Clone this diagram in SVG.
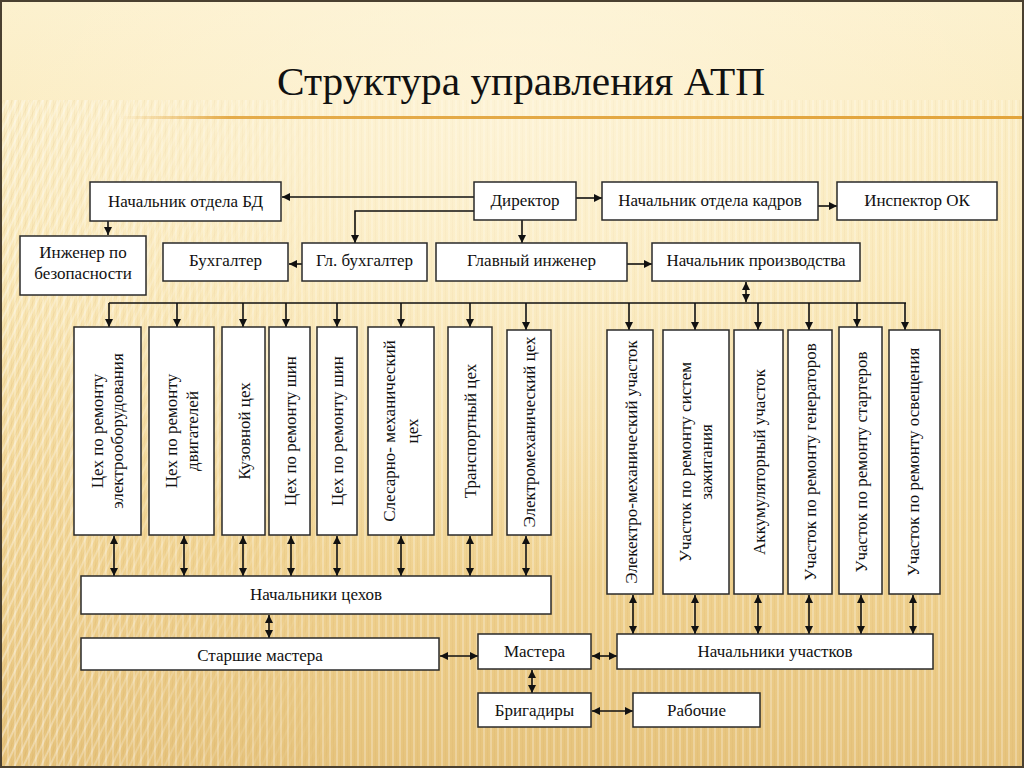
<svg xmlns="http://www.w3.org/2000/svg" width="1024" height="768" viewBox="0 0 1024 768">
<defs>
  <linearGradient id="bg" x1="0" y1="0" x2="0" y2="1">
    <stop offset="0" stop-color="#FCF0CC"/>
    <stop offset="0.35" stop-color="#F9E6B2"/>
    <stop offset="0.7" stop-color="#F1D493"/>
    <stop offset="1" stop-color="#E6C37C"/>
  </linearGradient>
  <radialGradient id="glow" cx="0.5" cy="0.15" r="0.6">
    <stop offset="0" stop-color="#FFF8E4" stop-opacity="0.6"/>
    <stop offset="1" stop-color="#FFF8E4" stop-opacity="0"/>
  </radialGradient>
  <linearGradient id="rule" x1="0" y1="0" x2="1" y2="0">
    <stop offset="0" stop-color="#E2A43C" stop-opacity="0"/>
    <stop offset="0.12" stop-color="#E2A43C" stop-opacity="0.9"/>
    <stop offset="1" stop-color="#E2A43C" stop-opacity="1"/>
  </linearGradient>
  <pattern id="vstripe" width="7" height="10" patternUnits="userSpaceOnUse">
    <rect x="0" y="0" width="2" height="10" fill="#FFFFFF" opacity="0.35"/>
    <rect x="4" y="0" width="1" height="10" fill="#C89A4A" opacity="0.12"/>
  </pattern>
  <pattern id="dstripe" width="8" height="8" patternUnits="userSpaceOnUse" patternTransform="rotate(25)">
    <rect x="0" y="0" width="2" height="8" fill="#FFFFFF" opacity="0.35"/>
    <rect x="5" y="0" width="1" height="8" fill="#C89A4A" opacity="0.12"/>
  </pattern>
  <linearGradient id="leftfade" x1="0" y1="0" x2="1" y2="0">
    <stop offset="0" stop-color="#fff" stop-opacity="1"/>
    <stop offset="1" stop-color="#fff" stop-opacity="0"/>
  </linearGradient>
  <mask id="leftmask"><rect x="0" y="0" width="360" height="768" fill="url(#leftfade)"/></mask>
  <marker id="ah" viewBox="0 0 10 10" refX="10" refY="5" markerWidth="9" markerHeight="8" markerUnits="userSpaceOnUse" orient="auto-start-reverse">
    <path d="M0,0 L10,5 L0,10 Z" fill="#111"/>
  </marker>
</defs>
<style>
  .box { fill: #FFFFFF; stroke: #2A2A2A; stroke-width: 1.5; }
  .t { font-family: "Liberation Serif", "Times New Roman", serif; font-size: 17px; fill: #111; text-anchor: middle; }
  .title { font-family: "Liberation Serif", "Times New Roman", serif; font-size: 40px; fill: #111; }
  .c { fill: none; stroke: #111; stroke-width: 1.6; }
  .one { marker-end: url(#ah); }
  .two { marker-start: url(#ah); marker-end: url(#ah); }
</style>

<!-- background -->
<rect x="0" y="0" width="1024" height="768" fill="url(#bg)"/>
<rect x="0" y="100" width="1024" height="668" fill="url(#vstripe)" opacity="0.7"/>
<rect x="0" y="100" width="360" height="668" fill="url(#dstripe)" mask="url(#leftmask)"/>
<rect x="0" y="0" width="1024" height="768" fill="url(#glow)"/>
<rect x="120" y="116" width="904" height="3" fill="url(#rule)"/>
<rect x="1" y="1" width="1022" height="766" fill="none" stroke="#4A4030" stroke-width="2"/>

<text class="title" x="277" y="95" textLength="488" lengthAdjust="spacingAndGlyphs">Структура  управления  АТП</text>

<!-- connectors -->
<g id="connectors">
  <path class="c one" d="M474,197 H282"/>
  <path class="c one" d="M474,211 H355 V243"/>
  <path class="c one" d="M108,221 V235"/>
  <path class="c one" d="M302,264 H289"/>
  <path class="c one" d="M522,220 V243"/>
  <path class="c one" d="M576,198 H602"/>
  <path class="c one" d="M818,206 H837"/>
  <path class="c one" d="M627,264 H652"/>
  <path class="c two" d="M746,282 V302"/>
  <path class="c" d="M109,303 H906"/>
  <!-- down to workshops -->
  <path class="c one" d="M109,303 V327"/>
  <path class="c one" d="M177,303 V327"/>
  <path class="c one" d="M243,303 V327"/>
  <path class="c one" d="M286,303 V327"/>
  <path class="c one" d="M337,303 V327"/>
  <path class="c one" d="M401,303 V327"/>
  <path class="c one" d="M470,303 V327"/>
  <path class="c one" d="M526,303 V330"/>
  <!-- down to sections -->
  <path class="c one" d="M629,303 V330"/>
  <path class="c one" d="M695,303 V330"/>
  <path class="c one" d="M758,303 V330"/>
  <path class="c one" d="M809,303 V330"/>
  <path class="c one" d="M857,303 V327"/>
  <path class="c one" d="M905,303 V330"/>
  <!-- workshops to heads -->
  <path class="c two" d="M114,536 V576"/>
  <path class="c two" d="M184,536 V576"/>
  <path class="c two" d="M243,536 V576"/>
  <path class="c two" d="M291,536 V576"/>
  <path class="c two" d="M337,536 V576"/>
  <path class="c two" d="M401,536 V576"/>
  <path class="c two" d="M470,536 V576"/>
  <path class="c two" d="M526,536 V576"/>
  <!-- sections to heads -->
  <path class="c two" d="M633,595 V634"/>
  <path class="c two" d="M695,595 V634"/>
  <path class="c two" d="M758,595 V634"/>
  <path class="c two" d="M809,595 V634"/>
  <path class="c two" d="M861,595 V634"/>
  <path class="c two" d="M913,595 V634"/>
  <!-- lower -->
  <path class="c two" d="M269,615 V638"/>
  <path class="c two" d="M440,656 H478"/>
  <path class="c two" d="M592,656 H617"/>
  <path class="c two" d="M532,670 V693"/>
  <path class="c two" d="M592,711 H633"/>
</g>

<!-- top level -->
<g id="n-bd"><rect class="box" x="90" y="182" width="191" height="39"/><text class="t" x="185.5" y="207">Начальник отдела БД</text></g>
<g id="n-dir"><rect class="box" x="474" y="182" width="102" height="38"/><text class="t" x="525" y="206">Директор</text></g>
<g id="n-kadr"><rect class="box" x="602" y="182" width="216" height="38"/><text class="t" x="710" y="206">Начальник отдела кадров</text></g>
<g id="n-insp"><rect class="box" x="837" y="182" width="160" height="38"/><text class="t" x="917" y="206">Инспектор ОК</text></g>

<g id="n-ing-bez"><rect class="box" x="20" y="236" width="126" height="59"/><text class="t" x="83" y="258">Инженер по</text><text class="t" x="83" y="279">безопасности</text></g>
<g id="n-buh"><rect class="box" x="163" y="243" width="125" height="38"/><text class="t" x="225.5" y="266">Бухгалтер</text></g>
<g id="n-glbuh"><rect class="box" x="302" y="243" width="125" height="38"/><text class="t" x="364.5" y="266">Гл. бухгалтер</text></g>
<g id="n-gling"><rect class="box" x="436" y="243" width="191" height="38"/><text class="t" x="531.5" y="266">Главный инженер</text></g>
<g id="n-proizv"><rect class="box" x="652" y="243" width="208" height="38"/><text class="t" x="756" y="266">Начальник производства</text></g>

<!-- workshops -->
<g id="w1"><rect class="box" x="74" y="327" width="67" height="208"/><text class="t" transform="translate(107.5,431) rotate(-90)"><tspan x="0" y="-5">Цех по ремонту</tspan><tspan x="0" y="15">электрооборудования</tspan></text></g>
<g id="w2"><rect class="box" x="149" y="327" width="65" height="208"/><text class="t" transform="translate(181.5,431) rotate(-90)"><tspan x="0" y="-5">Цех по ремонту</tspan><tspan x="0" y="16">двигателей</tspan></text></g>
<g id="w3"><rect class="box" x="222" y="327" width="43" height="208"/><text class="t" transform="translate(243.5,431) rotate(-90)" y="6">Кузовной цех</text></g>
<g id="w4"><rect class="box" x="269" y="327" width="41" height="208"/><text class="t" transform="translate(289.5,431) rotate(-90)" y="6">Цех по ремонту шин</text></g>
<g id="w5"><rect class="box" x="317" y="327" width="40" height="208"/><text class="t" transform="translate(337,431) rotate(-90)" y="6">Цех по ремонту шин</text></g>
<g id="w6"><rect class="box" x="368" y="327" width="66" height="208"/><text class="t" transform="translate(401,431) rotate(-90)"><tspan x="0" y="-6">Слесарно- механический</tspan><tspan x="0" y="17">цех</tspan></text></g>
<g id="w7"><rect class="box" x="448" y="327" width="44" height="208"/><text class="t" transform="translate(470,431) rotate(-90)" y="6">Транспортный цех</text></g>
<g id="w8"><rect class="box" x="507" y="330" width="44" height="205"/><text class="t" transform="translate(529,432) rotate(-90)" y="6">Электромеханический цех</text></g>

<!-- sections -->
<g id="s1"><rect class="box" x="607" y="330" width="46" height="264"/><text class="t" transform="translate(631,462) rotate(-90)" y="6">Элекектро-механический  участок</text></g>
<g id="s2"><rect class="box" x="663" y="330" width="66" height="264"/><text class="t" transform="translate(696,462) rotate(-90)"><tspan x="0" y="-5">Участок по ремонту систем</tspan><tspan x="0" y="16">зажигания</tspan></text></g>
<g id="s3"><rect class="box" x="734" y="330" width="49" height="264"/><text class="t" transform="translate(758.5,462) rotate(-90)" y="6">Аккумуляторный участок</text></g>
<g id="s4"><rect class="box" x="788" y="330" width="44" height="264"/><text class="t" transform="translate(810,462) rotate(-90)" y="6">Участок по ремонту генераторов</text></g>
<g id="s5"><rect class="box" x="839" y="327" width="43" height="267"/><text class="t" transform="translate(860.5,462) rotate(-90)" y="6">Участок по ремонту стартеров</text></g>
<g id="s6"><rect class="box" x="889" y="330" width="51" height="264"/><text class="t" transform="translate(913,462) rotate(-90)" y="6">Участок по ремонту освещения</text></g>

<!-- lower -->
<g id="n-nach-ceh"><rect class="box" x="81" y="576" width="470" height="38"/><text class="t" x="316" y="600">Начальники цехов</text></g>
<g id="n-star-mast"><rect class="box" x="81" y="638" width="358" height="32"/><text class="t" x="260" y="661">Старшие мастера</text></g>
<g id="n-mast"><rect class="box" x="478" y="634" width="113" height="35"/><text class="t" x="534.5" y="657">Мастера</text></g>
<g id="n-nach-uch"><rect class="box" x="617" y="634" width="316" height="35"/><text class="t" x="775" y="657">Начальники участков</text></g>
<g id="n-brig"><rect class="box" x="478" y="693" width="113" height="34"/><text class="t" x="534.5" y="716">Бригадиры</text></g>
<g id="n-rab"><rect class="box" x="633" y="693" width="127" height="34"/><text class="t" x="696.5" y="716">Рабочие</text></g>
</svg>
